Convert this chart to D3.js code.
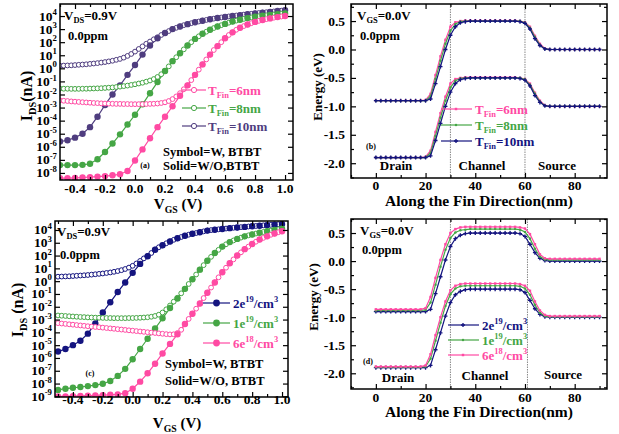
<!DOCTYPE html>
<html>
<head>
<meta charset="utf-8">
<script src="https://cdnjs.cloudflare.com/ajax/libs/d3/7.8.5/d3.min.js"></script>
<style>
body { margin: 0; background: #fff; }
svg text { font-family: "Liberation Serif", "Times New Roman", serif; font-weight: bold; }
</style>
</head>
<body>
<div class="figure"></div>
<script>
// gate voltage grids (V): filled symbols every 0.05, open symbols every 0.025
const vgsCoarse = [-0.5,-0.45,-0.4,-0.35,-0.3,-0.25,-0.2,-0.15,-0.1,-0.05,0,0.05,0.1,0.15,0.2,0.25,0.3,0.35,0.4,0.45,0.5,0.55,0.6,0.65,0.7,0.75,0.8,0.85,0.9,0.95,1.0];
const vgsFine = [-0.5,-0.475,-0.45,-0.425,-0.4,-0.375,-0.35,-0.325,-0.3,-0.275,-0.25,-0.225,-0.2,-0.175,-0.15,-0.125,-0.1,-0.075,-0.05,-0.025,0,0.025,0.05,0.075,0.1,0.125,0.15,0.175,0.2,0.225,0.25,0.275,0.3,0.325,0.35,0.375,0.4,0.425,0.45,0.475,0.5,0.525,0.55,0.575,0.6,0.625,0.65,0.675,0.7,0.725,0.75,0.775,0.8,0.825,0.85,0.875,0.9,0.925,0.95,0.975,1.0];

// (a) log10(IDS / nA) vs fin thickness
const a6Without = [-8.4,-8.4,-8.38,-8.35,-8.32,-8.28,-8.24,-8.18,-8.1,-7.85,-7.05,-6.2,-5.35,-4.5,-3.7,-2.9,-2.1,-1.3,-0.5,0.3,1.05,1.7,2.3,2.75,3.1,3.35,3.55,3.7,3.82,3.92,4.0];
const a6With = [-2.45,-2.48,-2.5,-2.53,-2.55,-2.57,-2.59,-2.61,-2.63,-2.65,-2.66,-2.68,-2.69,-2.7,-2.71,-2.72,-2.72,-2.73,-2.73,-2.74,-2.74,-2.74,-2.74,-2.73,-2.72,-2.71,-2.69,-2.65,-2.6,-2.5,-2.35,-2.15,-1.9,-1.6,-1.3,-0.9,-0.5,-0.1,0.3,0.68,1.05,1.4,1.7,2.0,2.3,2.55,2.75,2.95,3.1,3.23,3.35,3.45,3.55,3.63,3.7,3.76,3.82,3.87,3.92,3.96,4.0];
const a8Without = [-7.4,-7.4,-7.4,-7.38,-7.3,-6.95,-6.4,-5.75,-5.05,-4.3,-3.55,-2.75,-1.9,-1.05,-0.2,0.55,1.15,1.75,2.25,2.65,2.95,3.2,3.4,3.58,3.72,3.84,3.94,4.02,4.08,4.14,4.2];
const a8With = [-1.55,-1.56,-1.56,-1.57,-1.57,-1.57,-1.56,-1.56,-1.55,-1.54,-1.53,-1.52,-1.5,-1.48,-1.46,-1.43,-1.4,-1.36,-1.32,-1.27,-1.22,-1.16,-1.1,-1.02,-0.93,-0.82,-0.66,-0.45,-0.2,0.15,0.55,0.85,1.15,1.45,1.75,2.0,2.25,2.45,2.65,2.8,2.95,3.08,3.2,3.3,3.4,3.49,3.58,3.65,3.72,3.78,3.84,3.89,3.94,3.98,4.02,4.05,4.08,4.11,4.14,4.17,4.2];
const a10Without = [-5.6,-5.5,-5.3,-5.0,-4.5,-3.7,-2.8,-2.0,-1.3,-0.5,0.25,1.05,1.75,2.3,2.7,3.0,3.2,3.38,3.52,3.64,3.75,3.85,3.93,4.0,4.07,4.14,4.2,4.26,4.32,4.38,4.44];
const a10With = [0.2,0.21,0.22,0.23,0.25,0.27,0.29,0.31,0.34,0.37,0.4,0.44,0.48,0.53,0.58,0.65,0.72,0.82,0.95,1.1,1.28,1.48,1.68,1.88,2.05,2.22,2.38,2.55,2.7,2.85,3.0,3.1,3.2,3.3,3.38,3.45,3.52,3.58,3.64,3.7,3.75,3.8,3.85,3.89,3.93,3.97,4.0,4.04,4.07,4.11,4.14,4.17,4.2,4.23,4.26,4.29,4.32,4.35,4.38,4.41,4.44];

// (c) log10(IDS / nA) vs doping
const c2e19Without = [-5.5,-5.3,-5.0,-4.65,-4.1,-3.3,-2.45,-1.65,-0.85,-0.1,0.65,1.35,1.95,2.45,2.8,3.1,3.35,3.55,3.7,3.82,3.95,4.02,4.08,4.14,4.19,4.24,4.29,4.33,4.38,4.42,4.46];
const c2e19With = [0.35,0.36,0.37,0.38,0.4,0.42,0.44,0.46,0.48,0.51,0.54,0.57,0.6,0.64,0.68,0.73,0.79,0.86,0.95,1.06,1.2,1.38,1.58,1.78,1.97,2.2,2.47,2.65,2.8,2.96,3.1,3.23,3.35,3.45,3.55,3.63,3.7,3.76,3.82,3.89,3.95,3.99,4.02,4.05,4.08,4.11,4.14,4.17,4.19,4.22,4.24,4.27,4.29,4.31,4.33,4.36,4.38,4.4,4.42,4.44,4.46];
const c1e19Without = [-8.5,-8.4,-8.33,-8.27,-8.2,-8.12,-8.02,-7.8,-7.4,-6.85,-6.1,-5.3,-4.5,-3.7,-2.9,-2.1,-1.35,-0.6,0.15,0.9,1.6,2.2,2.7,3.05,3.3,3.5,3.65,3.78,3.9,4.0,4.1];
const c1e19With = [-2.68,-2.7,-2.72,-2.74,-2.76,-2.78,-2.8,-2.81,-2.83,-2.84,-2.85,-2.86,-2.87,-2.88,-2.88,-2.89,-2.89,-2.89,-2.89,-2.88,-2.88,-2.87,-2.86,-2.84,-2.82,-2.78,-2.72,-2.62,-2.45,-2.2,-1.9,-1.6,-1.3,-0.95,-0.6,-0.22,0.15,0.52,0.9,1.25,1.6,1.9,2.2,2.45,2.7,2.88,3.05,3.18,3.3,3.4,3.5,3.58,3.65,3.72,3.78,3.84,3.9,3.95,4.0,4.05,4.1];
const c6e18Without = [-9.0,-9.0,-8.98,-8.96,-8.95,-8.93,-8.9,-8.88,-8.85,-8.75,-8.4,-7.85,-7.2,-6.45,-5.65,-4.9,-4.15,-3.35,-2.55,-1.75,-0.9,-0.1,0.7,1.4,2.0,2.5,2.9,3.25,3.5,3.72,3.9];
const c6e18With = [-3.28,-3.31,-3.34,-3.37,-3.4,-3.43,-3.46,-3.49,-3.52,-3.55,-3.58,-3.6,-3.63,-3.66,-3.69,-3.72,-3.75,-3.78,-3.81,-3.84,-3.87,-3.9,-3.93,-3.96,-3.99,-4.02,-4.05,-4.08,-4.11,-4.14,-4.16,-4.15,-4.05,-3.8,-3.35,-2.95,-2.55,-2.15,-1.75,-1.32,-0.9,-0.5,-0.1,0.3,0.7,1.05,1.4,1.7,2.0,2.25,2.5,2.7,2.9,3.08,3.25,3.38,3.5,3.62,3.72,3.82,3.9];

// band diagrams: position along the fin (nm) and energy (eV)
const finNm = [0,2,4,6,8,10,12,14,16,18,20,22,24,26,28,30,32,34,36,38,40,42,44,46,48,50,52,54,56,58,60,62,64,66,68,70,72,74,76,78,80,82,84,86,88,90];

const bCb6 = [-0.9,-0.9,-0.9,-0.9,-0.9,-0.9,-0.9,-0.9,-0.9,-0.9,-0.89,-0.78,-0.45,-0.12,0.17,0.4,0.48,0.5,0.51,0.51,0.51,0.51,0.51,0.51,0.51,0.51,0.51,0.51,0.51,0.5,0.48,0.4,0.24,0.1,0.02,0,0,0,0,0,0,0,0,0,0,0];
const bCb8 = [-0.9,-0.9,-0.9,-0.9,-0.9,-0.9,-0.9,-0.9,-0.9,-0.9,-0.9,-0.82,-0.52,-0.2,0.1,0.33,0.45,0.49,0.5,0.5,0.5,0.5,0.5,0.5,0.5,0.5,0.5,0.5,0.5,0.5,0.47,0.38,0.22,0.08,0.01,0,0,0,0,0,0,0,0,0,0,0];
const bCb10 = [-0.9,-0.9,-0.9,-0.9,-0.9,-0.9,-0.9,-0.9,-0.9,-0.9,-0.9,-0.87,-0.6,-0.3,0.0,0.25,0.4,0.47,0.49,0.5,0.5,0.5,0.5,0.5,0.5,0.5,0.5,0.5,0.5,0.49,0.46,0.36,0.19,0.07,0.01,0,0,0,0,0,0,0,0,0,0,0];
const bVb6 = [-1.9,-1.9,-1.9,-1.9,-1.9,-1.9,-1.9,-1.9,-1.9,-1.9,-1.89,-1.78,-1.45,-1.12,-0.83,-0.6,-0.52,-0.5,-0.49,-0.49,-0.49,-0.49,-0.49,-0.49,-0.49,-0.49,-0.49,-0.49,-0.49,-0.5,-0.52,-0.6,-0.76,-0.9,-0.98,-1.0,-1.0,-1.0,-1.0,-1.0,-1.0,-1.0,-1.0,-1.0,-1.0,-1.0];
const bVb8 = [-1.9,-1.9,-1.9,-1.9,-1.9,-1.9,-1.9,-1.9,-1.9,-1.9,-1.9,-1.82,-1.52,-1.2,-0.9,-0.67,-0.55,-0.51,-0.5,-0.5,-0.5,-0.5,-0.5,-0.5,-0.5,-0.5,-0.5,-0.5,-0.5,-0.5,-0.53,-0.62,-0.78,-0.92,-0.99,-1.0,-1.0,-1.0,-1.0,-1.0,-1.0,-1.0,-1.0,-1.0,-1.0,-1.0];
const bVb10 = [-1.9,-1.9,-1.9,-1.9,-1.9,-1.9,-1.9,-1.9,-1.9,-1.9,-1.9,-1.87,-1.6,-1.3,-1.0,-0.75,-0.6,-0.53,-0.51,-0.5,-0.5,-0.5,-0.5,-0.5,-0.5,-0.5,-0.5,-0.5,-0.5,-0.51,-0.54,-0.64,-0.81,-0.93,-0.99,-1.0,-1.0,-1.0,-1.0,-1.0,-1.0,-1.0,-1.0,-1.0,-1.0,-1.0];

const dCb2e19 = [-0.9,-0.9,-0.9,-0.9,-0.9,-0.9,-0.9,-0.9,-0.9,-0.9,-0.9,-0.86,-0.58,-0.28,0.02,0.26,0.4,0.46,0.49,0.5,0.5,0.5,0.5,0.5,0.5,0.5,0.5,0.5,0.5,0.49,0.44,0.3,0.15,0.05,0.01,0,0,0,0,0,0,0,0,0,0,0];
const dCb1e19 = [-0.88,-0.88,-0.88,-0.88,-0.88,-0.88,-0.88,-0.88,-0.88,-0.88,-0.87,-0.74,-0.42,-0.1,0.2,0.41,0.51,0.55,0.56,0.57,0.57,0.57,0.57,0.57,0.57,0.57,0.57,0.57,0.57,0.56,0.52,0.4,0.22,0.08,0.03,0.02,0.02,0.02,0.02,0.02,0.02,0.02,0.02,0.02,0.02,0.02];
const dCb6e18 = [-0.86,-0.86,-0.86,-0.86,-0.86,-0.86,-0.86,-0.86,-0.86,-0.86,-0.84,-0.64,-0.3,0.02,0.3,0.5,0.57,0.6,0.61,0.61,0.61,0.61,0.61,0.61,0.61,0.61,0.61,0.61,0.61,0.6,0.58,0.48,0.3,0.12,0.05,0.04,0.04,0.04,0.04,0.04,0.04,0.04,0.04,0.04,0.04,0.04];
const dVb2e19 = [-1.9,-1.9,-1.9,-1.9,-1.9,-1.9,-1.9,-1.9,-1.9,-1.9,-1.9,-1.86,-1.58,-1.28,-0.98,-0.74,-0.6,-0.54,-0.51,-0.5,-0.5,-0.5,-0.5,-0.5,-0.5,-0.5,-0.5,-0.5,-0.5,-0.51,-0.56,-0.7,-0.85,-0.95,-0.99,-1.0,-1.0,-1.0,-1.0,-1.0,-1.0,-1.0,-1.0,-1.0,-1.0,-1.0];
const dVb1e19 = [-1.89,-1.89,-1.89,-1.89,-1.89,-1.89,-1.89,-1.89,-1.89,-1.89,-1.88,-1.74,-1.42,-1.1,-0.8,-0.59,-0.49,-0.45,-0.44,-0.44,-0.44,-0.44,-0.44,-0.44,-0.44,-0.44,-0.44,-0.44,-0.44,-0.45,-0.49,-0.6,-0.78,-0.92,-0.98,-0.99,-0.99,-0.99,-0.99,-0.99,-0.99,-0.99,-0.99,-0.99,-0.99,-0.99];
const dVb6e18 = [-1.88,-1.88,-1.88,-1.88,-1.88,-1.88,-1.88,-1.88,-1.88,-1.88,-1.86,-1.66,-1.32,-1.0,-0.72,-0.52,-0.44,-0.41,-0.4,-0.4,-0.4,-0.4,-0.4,-0.4,-0.4,-0.4,-0.4,-0.4,-0.4,-0.41,-0.44,-0.53,-0.72,-0.88,-0.96,-0.98,-0.98,-0.98,-0.98,-0.98,-0.98,-0.98,-0.98,-0.98,-0.98,-0.98];

// tick labels
const vgsTicks = [-0.4,-0.2,0,0.2,0.4,0.6,0.8,1.0];
const nmTicks = [0,20,40,60,80];
const energyTicks = [-2.0,-1.5,-1.0,-0.5,0.0,0.5];
const decadesA = [-8,-7,-6,-5,-4,-3,-2,-1,0,1,2,3,4];
const decadesC = [-9,-8,-7,-6,-5,-4,-3,-2,-1,0,1,2,3,4];
const finNames = ["6nm", "8nm", "10nm"];
const dopingNames = [["6e","18"], ["1e","19"], ["2e","19"]];

const pink = "#ff4aa3", green = "#45a645", purple = "#4f3d7f", navy = "#14147f";

const svg = d3.select(".figure").append("svg")
	.attr("width", 619)
	.attr("height", 434);

// text with sub/superscripts: parts like [["V"],["DS","sub"],["=0.9V"]]
const rich = (sel, parts, size) => {
	let shift = 0;
	parts.forEach(([t, kind]) => {
		const target = kind === "sub" ? size * 0.25 : kind === "sup" ? -size * 0.4 : 0;
		sel.append("tspan")
			.attr("dy", target - shift)
			.style("font-size", (kind ? size * 0.65 : size) + "px")
			.text(t);
		shift = target;
	});
	return sel;
};

const label = (x, y, parts, size, anchor, color) => {
	const t = svg.append("text")
		.attr("x", x)
		.attr("y", y)
		.style("text-anchor", anchor || "start")
		.style("fill", color || "#000");
	return rich(t, parts, size);
};

const fmt = d => d3.format(".1f")(d).replace("\u2212", "-");

const frame = (box, x, y, xTicks, xMinor, yTicks, yMinor) => {
	const g = svg.append("g");
	const ax = (gen, tr, vals, size) => g.append("g")
		.attr("transform", tr)
		.call(gen.tickValues(vals).tickSize(-size).tickFormat(""))
		.call(s => s.select(".domain").remove())
		.call(s => s.selectAll("line").attr("stroke-width", 1.2));
	ax(d3.axisBottom(x), `translate(0,${box.bottom})`, xTicks, 5);
	ax(d3.axisTop(x), `translate(0,${box.top})`, xTicks, 5);
	ax(d3.axisLeft(y), `translate(${box.left},0)`, yTicks, 5);
	ax(d3.axisRight(y), `translate(${box.right},0)`, yTicks, 5);
	if (xMinor) {
		ax(d3.axisBottom(x), `translate(0,${box.bottom})`, xMinor, 3);
		ax(d3.axisTop(x), `translate(0,${box.top})`, xMinor, 3);
	}
	if (yMinor) {
		ax(d3.axisLeft(y), `translate(${box.left},0)`, yMinor, 3);
		ax(d3.axisRight(y), `translate(${box.right},0)`, yMinor, 3);
	}
	g.append("rect")
		.attr("x", box.left)
		.attr("y", box.top)
		.attr("width", box.right - box.left)
		.attr("height", box.bottom - box.top)
		.attr("fill", "none")
		.attr("stroke", "#000")
		.attr("stroke-width", 1.5);
};

// ---------- transfer characteristic panels ----------
const ivPanel = (box, xDom, yDom, decades, series, opts) => {
	const x = d3.scaleLinear().domain(xDom).range([box.left, box.right]);
	const y = d3.scaleLog().domain(yDom.map(e => Math.pow(10, e))).range([box.bottom, box.top]);
	const clipId = "clip" + box.left + box.top;
	svg.append("clipPath").attr("id", clipId).append("rect")
		.attr("x", box.left).attr("y", box.top)
		.attr("width", box.right - box.left).attr("height", box.bottom - box.top);
	const plot = svg.append("g").attr("clip-path", `url(#${clipId})`);
	const line = d3.line()
		.x(d => x(d[0]))
		.y(d => y(Math.pow(10, d[1])));

	series.forEach(s => {
		const open = vgsFine.map((v, i) => [v, s.with[i]]);
		const solid = vgsCoarse.map((v, i) => [v, s.without[i]]);
		plot.append("path").datum(open)
			.attr("d", line).attr("fill", "none")
			.attr("stroke", s.color).attr("stroke-width", 1.2);
		plot.append("path").datum(solid)
			.attr("d", line).attr("fill", "none")
			.attr("stroke", s.color).attr("stroke-width", 1.2);
		plot.selectAll(null).data(open).enter().append("circle")
			.attr("cx", d => x(d[0]))
			.attr("cy", d => y(Math.pow(10, d[1])))
			.attr("r", 2.4)
			.attr("fill", "#fff")
			.attr("stroke", s.color)
			.attr("stroke-width", 1);
		plot.selectAll(null).data(solid).enter().append("circle")
			.attr("cx", d => x(d[0]))
			.attr("cy", d => y(Math.pow(10, d[1])))
			.attr("r", 3.2)
			.attr("fill", s.color);
	});

	frame(box, x, y, vgsTicks, [-0.5,-0.3,-0.1,0.1,0.3,0.5,0.7,0.9],
		decades.map(e => Math.pow(10, e)));

	vgsTicks.forEach(v => {
		label(x(v), opts.xTickY, [[fmt(v)]], 13.5, "middle");
	});
	decades.forEach(e => {
		label(box.left - 3, y(Math.pow(10, e)) + 4.5, [["10"], [String(e), "sup"]], 13.5, "end");
	});
};

const boxA = { left: 60, top: 4, right: 293, bottom: 180 };
const boxC = { left: 55, top: 221, right: 288, bottom: 397 };

ivPanel(boxA, [-0.5, 1.053], [-8.54, 4.92], decadesA, [
	{ color: purple, with: a10With, without: a10Without },
	{ color: green, with: a8With, without: a8Without },
	{ color: pink, with: a6With, without: a6Without }
], { xTickY: 193 });

ivPanel(boxC, [-0.52, 1.04], [-9.05, 4.7], decadesC, [
	{ color: navy, with: c2e19With, without: c2e19Without },
	{ color: green, with: c1e19With, without: c1e19Without },
	{ color: pink, with: c6e18With, without: c6e18Without }
], { xTickY: 404 });

// legends (a)
[pink, green, purple].forEach((c, i) => {
	const yy = 90 + i * 18;
	svg.append("line").attr("x1", 182).attr("x2", 206).attr("y1", yy).attr("y2", yy)
		.attr("stroke", c).attr("stroke-width", 1.2);
	svg.append("circle").attr("cx", 194).attr("cy", yy).attr("r", 2.6)
		.attr("fill", "#fff").attr("stroke", c);
	label(208, yy + 4.5, [["T"], ["Fin", "sub"], ["=" + finNames[i]]], 13, "start", c);
});
// legends (c)
[navy, green, pink].forEach((c, i) => {
	const yy = 303 + i * 20;
	const n = dopingNames[2 - i];
	svg.append("line").attr("x1", 203).attr("x2", 230).attr("y1", yy).attr("y2", yy)
		.attr("stroke", c).attr("stroke-width", 1.2);
	svg.append("circle").attr("cx", 216.5).attr("cy", yy).attr("r", 3.4).attr("fill", c);
	label(233, yy + 4.5, [[n[0]], [n[1], "sup"], ["/cm"], ["3", "sup"]], 13, "start", c);
});

label(64, 20, [["V"], ["DS", "sub"], ["=0.9V"]], 13);
label(68, 40, [["0.0ppm"]], 12.5);
label(163, 156, [["Symbol=W, BTBT"]], 12.5);
label(163, 170, [["Solid=W/O,BTBT"]], 12.5);
label(145, 168, [["(a)"]], 8, "middle");
label(57, 236, [["V"], ["DS", "sub"], ["=0.9V"]], 13);
label(60, 259, [["0.0ppm"]], 12.5);
label(165, 368, [["Symbol=W, BTBT"]], 12.5);
label(165, 385, [["Solid=W/O, BTBT"]], 12.5);
label(90, 376, [["(c)"]], 8, "middle");

svg.append("text").attr("transform", "translate(27,96) rotate(-90)").attr("y", 5)
	.style("text-anchor", "middle").call(t => rich(t, [["I"], ["DS", "sub"], ["(nA)"]], 16));
svg.append("text").attr("transform", "translate(18,310) rotate(-90)").attr("y", 5)
	.style("text-anchor", "middle").call(t => rich(t, [["I"], ["DS", "sub"], [" (nA)"]], 16));
label(178, 209, [["V"], ["GS", "sub"], [" (V)"]], 15, "middle");
label(177, 428, [["V"], ["GS", "sub"], [" (V)"]], 15, "middle");

// ---------- band diagram panels ----------
const bandPanel = (box, yDom, bounds, series, opts) => {
	const x = d3.scaleLinear().domain([-10, 93]).range([box.left, box.right]);
	const y = d3.scaleLinear().domain(yDom).range([box.bottom, box.top]);
	const line = d3.line()
		.x(d => x(d[0]))
		.y(d => y(d[1]));

	bounds.forEach(b => {
		svg.append("line")
			.attr("x1", x(b)).attr("x2", x(b))
			.attr("y1", box.top).attr("y2", box.bottom)
			.attr("stroke", "#888").attr("stroke-width", 1)
			.attr("stroke-dasharray", "1.5,1");
	});

	series.forEach(s => {
		[s.cb, s.vb].forEach(band => {
			const pts = finNm.map((v, i) => [v, band[i]]);
			svg.append("path").datum(pts)
				.attr("d", line).attr("fill", "none")
				.attr("stroke", s.color).attr("stroke-width", 1.2);
			svg.selectAll(null).data(pts).enter().append("path")
				.attr("transform", d => `translate(${x(d[0])},${y(d[1])})`)
				.attr("d", d3.symbol().type(s.symbol).size(s.size))
				.attr("fill", s.color);
		});
	});

	frame(box, x, y, nmTicks, [-10, 10, 30, 50, 70, 90], energyTicks,
		[-2.25, -1.75, -1.25, -0.75, -0.25, 0.25, 0.75]);

	nmTicks.forEach(v => label(x(v), opts.xTickY, [[String(v)]], 13.5, "middle"));
	energyTicks.forEach(v => label(box.left - 6, y(v) + 4.5, [[fmt(v)]], 13.5, "end"));

	series.forEach((s, i) => {
		const yy = opts.legendY + i * opts.legendStep;
		svg.append("line").attr("x1", opts.legendX).attr("x2", opts.legendX + 31)
			.attr("y1", yy).attr("y2", yy)
			.attr("stroke", s.color).attr("stroke-width", 1.2);
		svg.append("path")
			.attr("transform", `translate(${opts.legendX + 15},${yy})`)
			.attr("d", d3.symbol().type(s.symbol).size(s.size))
			.attr("fill", s.color);
		label(opts.legendX + 34, yy + 4.5, s.name, 13, "start", s.color);
	});

	label((box.left + box.right) / 2, opts.titleY, [["Along the Fin Direction(nm)"]], 15.5, "middle");
};

const boxB = { left: 351, top: 4, right: 607, bottom: 178 };
const boxD = { left: 351, top: 219, right: 607, bottom: 389 };

bandPanel(boxB, [-2.26, 0.8], [30, 60], [
	{ color: pink, cb: bCb6, vb: bVb6, symbol: d3.symbolSquare, size: 6, name: [["T"], ["Fin", "sub"], ["=" + finNames[0]]] },
	{ color: green, cb: bCb8, vb: bVb8, symbol: d3.symbolCircle, size: 5, name: [["T"], ["Fin", "sub"], ["=" + finNames[1]]] },
	{ color: navy, cb: bCb10, vb: bVb10, symbol: d3.symbolCross, size: 9, name: [["T"], ["Fin", "sub"], ["=" + finNames[2]]] }
], { xTickY: 189.5, titleY: 206, legendX: 441, legendY: 109, legendStep: 16 });

bandPanel(boxD, [-2.28, 0.75], [30, 61], [
	{ color: navy, cb: dCb2e19, vb: dVb2e19, symbol: d3.symbolCross, size: 9, name: [["2e"], ["19", "sup"], ["/cm"], ["3", "sup"]] },
	{ color: green, cb: dCb1e19, vb: dVb1e19, symbol: d3.symbolCircle, size: 5, name: [["1e"], ["19", "sup"], ["/cm"], ["3", "sup"]] },
	{ color: pink, cb: dCb6e18, vb: dVb6e18, symbol: d3.symbolSquare, size: 6, name: [["6e"], ["18", "sup"], ["/cm"], ["3", "sup"]] }
], { xTickY: 402, titleY: 417, legendX: 448, legendY: 325, legendStep: 15 });

label(357, 20, [["V"], ["GS", "sub"], ["=0.0V"]], 13);
label(360, 40, [["0.0ppm"]], 12.5);
label(371, 149, [["(b)"]], 8, "middle");
label(396, 170, [["Drain"]], 13, "middle");
label(482, 170, [["Channel"]], 13, "middle");
label(557, 170, [["Source"]], 13, "middle");
label(360, 235, [["V"], ["GS", "sub"], ["=0.0V"]], 13);
label(362, 254, [["0.0ppm"]], 12.5);
label(368, 364, [["(d)"]], 8, "middle");
label(398, 382, [["Drain"]], 13, "middle");
label(485, 380, [["Channel"]], 13, "middle");
label(563, 379, [["Source"]], 13, "middle");

svg.append("text").attr("transform", "translate(317,87) rotate(-90)").attr("y", 5)
	.style("text-anchor", "middle").call(t => rich(t, [["Energy (eV)"]], 13));
svg.append("text").attr("transform", "translate(313,297) rotate(-90)").attr("y", 5)
	.style("text-anchor", "middle").call(t => rich(t, [["Energy (eV)"]], 13));
</script>
</body>
</html>
